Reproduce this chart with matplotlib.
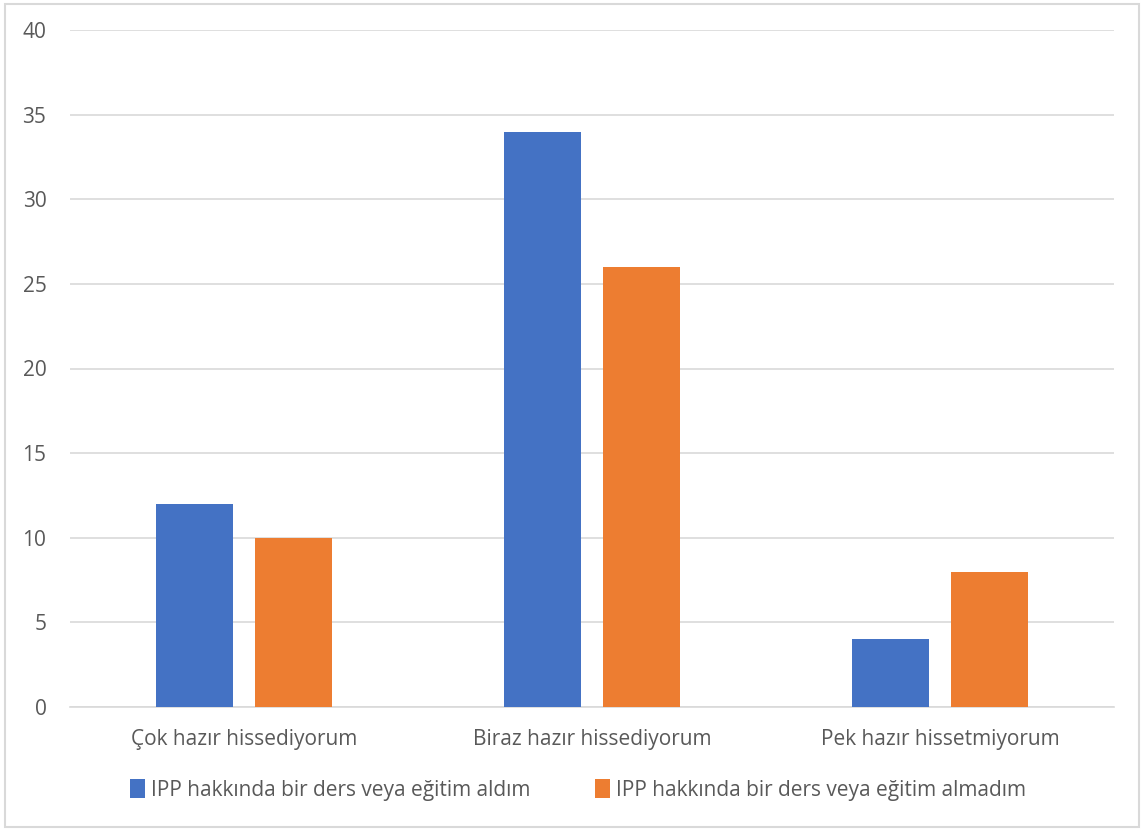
import matplotlib
matplotlib.use("Agg")
import matplotlib.pyplot as plt
import numpy as np
from matplotlib.patches import Rectangle

categories = ["Çok hazır hissediyorum", "Biraz hazır hissediyorum", "Pek hazır hissetmiyorum"]
series_names = ["IPP hakkında bir ders veya eğitim aldım",
                "IPP hakkında bir ders veya eğitim almadım"]
aldim = [12, 34, 4]
almadim = [10, 26, 8]
colors = ["#4472C4", "#ED7D31"]

plt.rcParams["font.family"] = ["Open Sans", "DejaVu Sans"]

fig = plt.figure(figsize=(11.44, 8.32), dpi=100)
ax = fig.add_axes([70 / 1144, 1 - 707 / 832, 1044 / 1144, 677 / 832])

x = np.arange(len(categories))
width = 0.221
offset = 0.142
ax.bar(x - offset, aldim, width, color=colors[0], label=series_names[0], zorder=3)
ax.bar(x + offset, almadim, width, color=colors[1], label=series_names[1], zorder=3)

ax.set_xlim(-0.5, 2.5)
ax.set_ylim(0, 40)
ax.set_yticks(range(0, 41, 5))
ax.yaxis.grid(True, color="#D9D9D9", linewidth=1.2, zorder=0)
ax.set_xticks(x)
ax.set_xticklabels(categories)
for s in ax.spines.values():
    s.set_visible(False)
ax.spines["bottom"].set_visible(True)
ax.spines["bottom"].set_color("#D9D9D9")
ax.spines["bottom"].set_linewidth(1.2)
ax.tick_params(axis="both", length=0, labelsize=15, colors="#595959")
ax.tick_params(axis="y", pad=17)
ax.tick_params(axis="x", pad=16)

leg = fig.legend(loc="center", bbox_to_anchor=(0.5 + 6 / 1144, 1 - 790 / 832), ncol=2,
                 frameon=False, fontsize=15, handlelength=0.72, handleheight=1.0,
                 handletextpad=0.3, columnspacing=3.1)
for t in leg.get_texts():
    t.set_color("#595959")

fig.patches.append(Rectangle((5 / 1144, 1 - 827 / 832), 1134 / 1144, 823 / 832,
                             transform=fig.transFigure, fill=False,
                             edgecolor="#D9D9D9", linewidth=1.5))

fig.savefig("out.png", dpi=100, facecolor="white")
